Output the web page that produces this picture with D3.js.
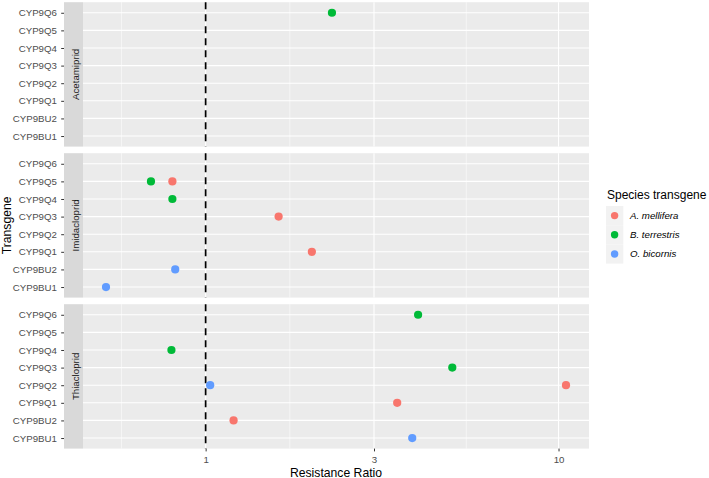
<!DOCTYPE html>
<html>
<head>
<meta charset="utf-8">
<script src="https://cdn.jsdelivr.net/npm/d3@7"></script>
<style>
  body { margin: 0; background: #fff; }
  svg text { font-family: "Liberation Sans", Arial, sans-serif; }
</style>
</head>
<body>
<div id="chart"></div>
<script>

// categories
var transgenes = ["CYP9BU1", "CYP9BU2", "CYP9Q1", "CYP9Q2", "CYP9Q3", "CYP9Q4", "CYP9Q5", "CYP9Q6"];
var insecticides = ["Acetamiprid", "Imidacloprid", "Thiacloprid"];
var species = ["A. mellifera", "B. terrestris", "O. bicornis"];
var xTicks = [1, 3, 10];

// resistance ratios: [transgene, species, ratio]
var acetamipridPoints = [
    ["CYP9Q6", "B. terrestris", 2.28]
];
var imidaclopridPoints = [
    ["CYP9Q5", "B. terrestris", 0.70],
    ["CYP9Q5", "A. mellifera", 0.805],
    ["CYP9Q4", "B. terrestris", 0.805],
    ["CYP9Q3", "A. mellifera", 1.61],
    ["CYP9Q1", "A. mellifera", 2.0],
    ["CYP9BU2", "O. bicornis", 0.82],
    ["CYP9BU1", "O. bicornis", 0.522]
];
var thiaclopridPoints = [
    ["CYP9Q6", "B. terrestris", 4.0],
    ["CYP9Q4", "B. terrestris", 0.80],
    ["CYP9Q3", "B. terrestris", 5.0],
    ["CYP9Q2", "O. bicornis", 1.03],
    ["CYP9Q2", "A. mellifera", 10.5],
    ["CYP9Q1", "A. mellifera", 3.49],
    ["CYP9BU2", "A. mellifera", 1.2],
    ["CYP9BU1", "O. bicornis", 3.85]
];

var pointsByFacet = {
    "Acetamiprid": acetamipridPoints,
    "Imidacloprid": imidaclopridPoints,
    "Thiacloprid": thiaclopridPoints
};

var width = 709, height = 478;
var panel = { left: 83, right: 589, top: 2.2, h: 144.4, gap: 6.6 };
var stripW = 19;

var svg = d3.select("#chart").append("svg")
    .attr("width", width)
    .attr("height", height);

// x: log scale, ggplot style 5% expansion in log space
var allRatios = [].concat(acetamipridPoints, imidaclopridPoints, thiaclopridPoints)
    .map(function(d){ return Math.log10(d[2]); });
var ext = d3.extent(allRatios);
var pad = (ext[1] - ext[0]) * 0.05;
var x = d3.scaleLog()
    .domain([Math.pow(10, ext[0] - pad), Math.pow(10, ext[1] + pad)])
    .range([panel.left, panel.right]);

// minor breaks sit halfway (in log) between majors
var minorTicks = [Math.sqrt(1 / 3), Math.sqrt(3), Math.sqrt(30)];

var color = d3.scaleOrdinal()
    .domain(species)
    .range(["#F8766D", "#00BA38", "#619CFF"]);

insecticides.forEach(function(name, i) {
    var top = panel.top + i * (panel.h + panel.gap);

    var y = d3.scalePoint()
        .domain(transgenes.slice().reverse())
        .range([top, top + panel.h])
        .padding(0.6);

    var g = svg.append("g").attr("class", "facet");

    g.append("rect")
        .attr("x", panel.left)
        .attr("y", top)
        .attr("width", panel.right - panel.left)
        .attr("height", panel.h)
        .attr("fill", "#EBEBEB");

    g.selectAll(".minor")
        .data(minorTicks)
        .enter().append("line")
        .attr("x1", function(d){ return x(d); })
        .attr("x2", function(d){ return x(d); })
        .attr("y1", top)
        .attr("y2", top + panel.h)
        .attr("stroke", "#fff")
        .attr("stroke-width", 0.55);

    g.selectAll(".vmajor")
        .data(xTicks)
        .enter().append("line")
        .attr("x1", function(d){ return x(d); })
        .attr("x2", function(d){ return x(d); })
        .attr("y1", top)
        .attr("y2", top + panel.h)
        .attr("stroke", "#fff")
        .attr("stroke-width", 1.1);

    g.selectAll(".hmajor")
        .data(transgenes)
        .enter().append("line")
        .attr("x1", panel.left)
        .attr("x2", panel.right)
        .attr("y1", function(d){ return y(d); })
        .attr("y2", function(d){ return y(d); })
        .attr("stroke", "#fff")
        .attr("stroke-width", 1.1);

    // reference line at ratio 1
    g.append("line")
        .attr("x1", x(1))
        .attr("x2", x(1))
        .attr("y1", top)
        .attr("y2", top + panel.h)
        .attr("stroke", "#000")
        .attr("stroke-width", 1.7)
        .attr("stroke-dasharray", "7,5");

    g.selectAll("circle")
        .data(pointsByFacet[name])
        .enter().append("circle")
        .attr("cx", function(d){ return x(d[2]); })
        .attr("cy", function(d){ return y(d[0]); })
        .attr("r", 4.1)
        .attr("fill", function(d){ return color(d[1]); });

    // strip on the left
    g.append("rect")
        .attr("x", panel.left - stripW)
        .attr("y", top)
        .attr("width", stripW)
        .attr("height", panel.h)
        .attr("fill", "#D9D9D9");

    g.append("text")
        .attr("transform", "translate(" + (panel.left - stripW / 2 + 5) + "," + (top + panel.h / 2) + ") rotate(-90)")
        .attr("text-anchor", "middle")
        .attr("font-size", 9.7)
        .attr("fill", "#1A1A1A")
        .text(name);

    // y axis, left of the strip
    var yAxis = d3.axisLeft(y).tickSize(2.8).tickPadding(4.3);
    var ax = g.append("g")
        .attr("transform", "translate(" + (panel.left - stripW) + ",0)")
        .call(yAxis);
    ax.select(".domain").remove();
    ax.selectAll(".tick line").attr("stroke", "#333333");
    ax.selectAll(".tick text")
        .attr("font-size", 9.7)
        .attr("fill", "#4D4D4D")
        .style("font-family", "'Liberation Sans', Arial, sans-serif");
});

// x axis under the last panel
var bottom = panel.top + 3 * panel.h + 2 * panel.gap;
var xAxis = d3.axisBottom(x).tickValues(xTicks).tickFormat(d3.format("d")).tickSize(2.8).tickPadding(4.5);
var xa = svg.append("g")
    .attr("transform", "translate(0," + bottom + ")")
    .call(xAxis);
xa.select(".domain").remove();
xa.selectAll(".tick line").attr("stroke", "#333333");
xa.selectAll(".tick text")
    .attr("font-size", 9.7)
    .attr("fill", "#4D4D4D")
    .style("font-family", "'Liberation Sans', Arial, sans-serif");

svg.append("text")
    .attr("x", (panel.left + panel.right) / 2)
    .attr("y", 476.5)
    .attr("text-anchor", "middle")
    .attr("font-size", 12.2)
    .attr("fill", "#000")
    .text("Resistance Ratio");

svg.append("text")
    .attr("transform", "translate(11," + (panel.top + bottom) / 2 + ") rotate(-90)")
    .attr("text-anchor", "middle")
    .attr("font-size", 12.2)
    .attr("fill", "#000")
    .text("Transgene");

// legend
var legend = svg.append("g").attr("transform", "translate(606,0)");
legend.append("text")
    .attr("x", 1)
    .attr("y", 199)
    .attr("font-size", 12)
    .attr("fill", "#000")
    .text("Species transgene");

var keyH = 19.2;
var keys = legend.selectAll(".key")
    .data(species)
    .enter().append("g")
    .attr("class", "key")
    .attr("transform", function(d, i){ return "translate(0," + (206 + i * keyH) + ")"; });

keys.append("rect")
    .attr("width", 17.3)
    .attr("height", keyH)
    .attr("fill", "#F2F2F2");

keys.append("circle")
    .attr("cx", 8.6)
    .attr("cy", keyH / 2)
    .attr("r", 3.7)
    .attr("fill", function(d){ return color(d); });

keys.append("text")
    .attr("x", 24)
    .attr("y", keyH / 2 + 3.5)
    .attr("font-size", 9.7)
    .attr("font-style", "italic")
    .attr("fill", "#000")
    .text(function(d){ return d; });

</script>
</body>
</html>
